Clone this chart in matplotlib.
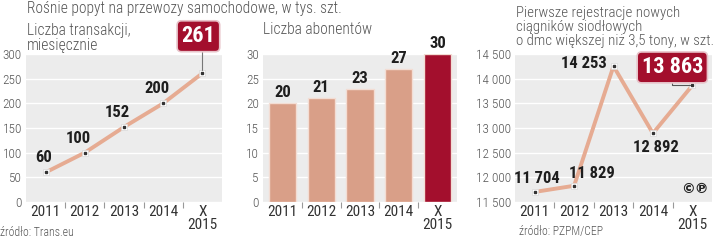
import matplotlib
matplotlib.use("Agg")
import matplotlib.pyplot as plt

plt.rcParams['font.family'] = ['Roboto Condensed', 'DejaVu Sans']

# ---- data ----
categories = ["2011", "2012", "2013", "2014", "X\n2015"]
transactions = [60, 100, 152, 200, 261]
subscribers = [20, 21, 23, 27, 30]
registrations = [11704, 11829, 14253, 12892, 13863]

ticks1 = [0, 50, 100, 150, 200, 250, 300]
ticks2 = [0, 5, 10, 15, 20, 25, 30]
ticks3 = [11500, 12000, 12500, 13000, 13500, 14000, 14500]

title = "Rośnie popyt na przewozy samochodowe, w tys. szt."
sub1 = "Liczba transakcji,\nmiesięcznie"
sub2 = "Liczba abonentów"
sub3 = "Pierwsze rejestracje nowych\nciągników siodłowych\no dmc większej niż 3,5 tony, w szt."
src1 = "źródło: Trans.eu"
src3 = "źródło: PZPM/CEP"

# ---- style ----
BG = "#ececec"
LINE = "#e6ab92"
BAR = "#d99f88"
RED = "#a30f2d"
TICK = "#555555"
DARK = "#1e1e1e"
GREY_TXT = "#555555"

def fmt(v):
    return f"{v:,}".replace(",", " ")

fig = plt.figure(figsize=(7.2, 2.4), dpi=100)
W, H = 720, 240

def mkax(x0, x1, y0=54, y1=202):
    return fig.add_axes([x0 / W, 1 - y1 / H, (x1 - x0) / W, (y1 - y0) / H])

def style(ax, ticks, labels):
    ax.set_facecolor(BG)
    for s in ax.spines.values():
        s.set_visible(False)
    ax.set_yticks(ticks)
    ax.set_yticklabels(labels, fontsize=9.5, color=TICK, fontweight='light')
    ax.set_ylim(ticks[0], ticks[-1])
    ax.set_xlim(-0.5, len(categories) - 0.5)
    ax.set_xticks(range(len(categories)))
    ax.set_xticklabels(categories, fontsize=11, color="#333333", linespacing=0.95)
    ax.set_xticks([i + 0.5 for i in range(len(categories) - 1)], minor=True)
    ax.tick_params(axis='x', which='major', length=0, pad=2)
    ax.tick_params(axis='x', which='minor', length=4, color="#999999", width=0.8)
    ax.tick_params(axis='y', length=0, pad=3)
    ax.grid(axis='y', color="white", lw=1.0)
    ax.set_axisbelow(True)

def markers(ax, xs, ys):
    ax.plot(xs, ys, color=LINE, lw=2.8, zorder=3, solid_capstyle='round')
    ax.plot(xs, ys, ls='none', marker='s', ms=4.5, mfc='white', mec='#d8d8d8', mew=0.5, zorder=4)
    ax.plot(xs, ys, ls='none', marker='s', ms=1.6, mfc='#333333', mec='#333333', zorder=5)

box = dict(boxstyle='round,pad=0.2,rounding_size=0.2', fc=RED, ec='#e8c4ca', lw=1.2)

x = list(range(len(categories)))

# Panel 1
ax1 = mkax(26, 222)
style(ax1, ticks1, [str(t) for t in ticks1])
markers(ax1, x, transactions)
for i, v in enumerate(transactions[:-1]):
    ax1.annotate(str(v), (i, v), xytext=(6, 7), textcoords='offset pixels',
                 ha='right', va='bottom', fontsize=12, fontweight='bold', color=DARK)
ax1.annotate(str(transactions[-1]), (4, transactions[-1]), xytext=(-4, 37), textcoords='offset pixels',
             ha='center', va='center', fontsize=16, fontweight='bold', color='white', bbox=box,
             arrowprops=dict(arrowstyle='-', color='#777777', lw=0.8, shrinkA=0, shrinkB=2,
                             connectionstyle='angle,angleA=0,angleB=90,rad=0'),
             annotation_clip=False, zorder=6)

# Panel 2
ax2 = mkax(263, 457)
style(ax2, ticks2, [str(t) for t in ticks2])
colors = [BAR] * (len(subscribers) - 1) + [RED]
ax2.bar(x, subscribers, width=0.7, color=colors, edgecolor='#f3ddd4', lw=1.0, zorder=3)
for i, v in enumerate(subscribers):
    ax2.annotate(str(v), (i, v), xytext=(0, 3), textcoords='offset pixels',
                 ha='center', va='bottom', fontsize=12, fontweight='bold', color=DARK,
                 annotation_clip=False)

# Panel 3
ax3 = mkax(515, 712)
style(ax3, ticks3, [fmt(t) for t in ticks3])
markers(ax3, x, registrations)
lab_pos = [((2, 6), 'center', 'bottom'), ((-5, 5), 'left', 'bottom'),
           ((-7, 3), 'right', 'center'), ((3, -7), 'center', 'top')]
for i, v in enumerate(registrations[:-1]):
    off, ha, va = lab_pos[i]
    ax3.annotate(fmt(v), (i, v), xytext=off, textcoords='offset pixels',
                 ha=ha, va=va, fontsize=12, fontweight='bold', color=DARK, zorder=6)
ax3.annotate(fmt(registrations[-1]), (4, registrations[-1]), xytext=(-20, 18), textcoords='offset pixels',
             ha='center', va='center', fontsize=16, fontweight='bold', color='white', bbox=box,
             arrowprops=dict(arrowstyle='-', color='#555555', lw=0.8, shrinkA=0, shrinkB=2,
                             connectionstyle='angle,angleA=90,angleB=0,rad=0'),
             annotation_clip=False, zorder=6)
ax3.text(0.985, 0.04, "©℗", transform=ax3.transAxes, ha='right', va='bottom',
         fontsize=10, fontweight='bold', color='#222222', family=['DejaVu Sans'])

# texts
fig.text(27 / W, 1 - 9 / H, title, ha='left', va='center', fontsize=11.2, color=GREY_TXT, fontweight='light')
fig.text(27 / W, 1 - 38 / H, sub1, ha='left', va='center', fontsize=11.2, color=GREY_TXT,
         fontweight='light', linespacing=1.05)
fig.text(263 / W, 1 - 30 / H, sub2, ha='left', va='center', fontsize=11.2, color=GREY_TXT, fontweight='light')
fig.text(516 / W, 1 - 27 / H, sub3, ha='left', va='center', fontsize=10.7, color=GREY_TXT,
         fontweight='light', linespacing=1.03)
fig.text(0 / W, 1 - 232 / H, src1, ha='left', va='center', fontsize=8.5, color=GREY_TXT, fontweight='light')
fig.text(519 / W, 1 - 232 / H, src3, ha='left', va='center', fontsize=8.5, color=GREY_TXT, fontweight='light')

fig.savefig("out.png", dpi=100)
